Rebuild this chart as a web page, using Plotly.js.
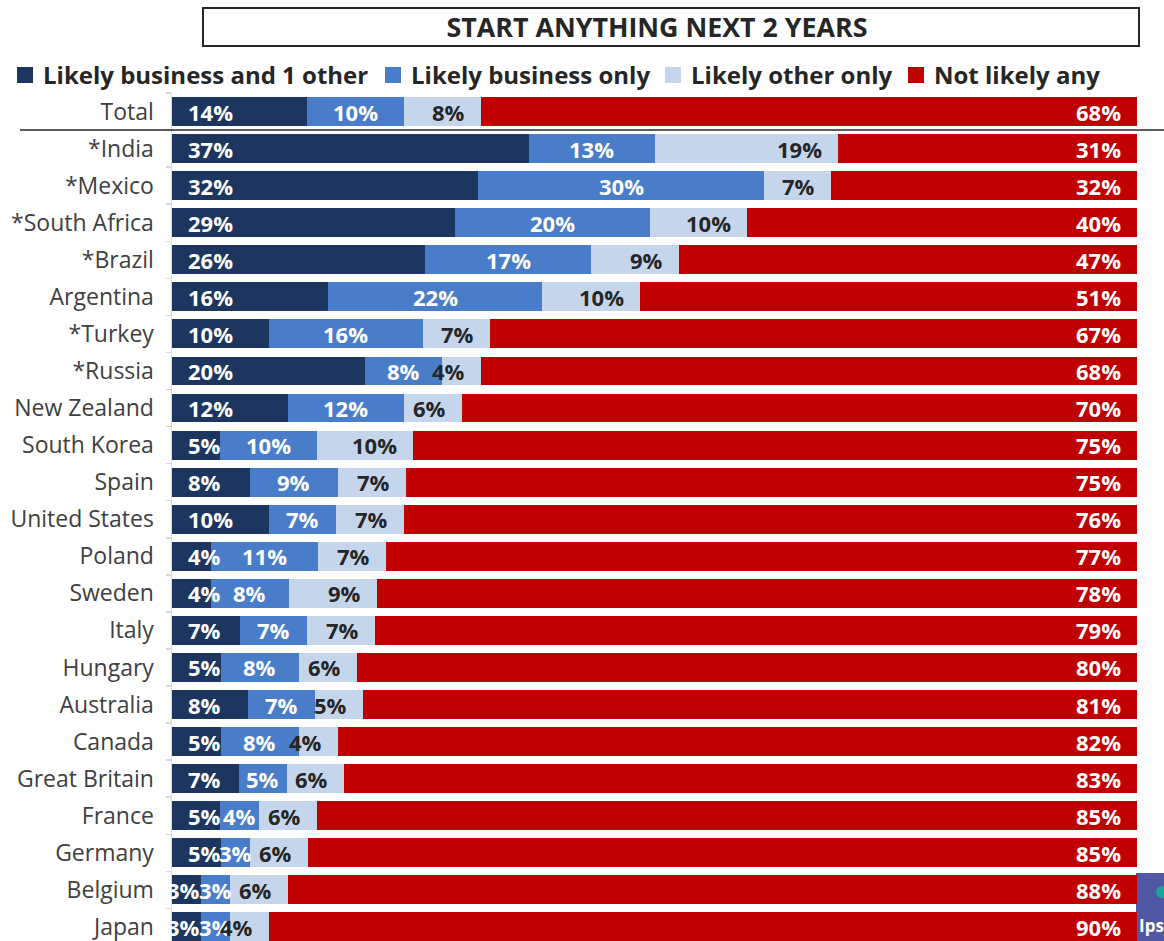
<!DOCTYPE html>
<html>
<head>
<meta charset="utf-8">
<script src="https://cdn.plot.ly/plotly-3.0.1.min.js"></script>
<style>
  html, body { margin: 0; padding: 0; background: #ffffff; }
  #chart { width: 1164px; height: 941px; }
</style>
</head>
<body>
<div id="chart"></div>
<script>
// ---- Data ----
const categories = ["Total", "*India", "*Mexico", "*South Africa", "*Brazil", "Argentina", "*Turkey",
  "*Russia", "New Zealand", "South Korea", "Spain", "United States", "Poland", "Sweden", "Italy",
  "Hungary", "Australia", "Canada", "Great Britain", "France", "Germany", "Belgium", "Japan"];
const likelyBusinessAndOther = [14, 37, 32, 29, 26, 16, 10, 20, 12, 5, 8, 10, 4, 4, 7, 5, 8, 5, 7, 5, 5, 3, 3];
const likelyBusinessOnly     = [10, 13, 30, 20, 17, 22, 16, 8, 12, 10, 9, 7, 11, 8, 7, 8, 7, 8, 5, 4, 3, 3, 3];
const likelyOtherOnly        = [8, 19, 7, 10, 9, 10, 7, 4, 6, 10, 7, 7, 7, 9, 7, 6, 5, 4, 6, 6, 6, 6, 4];
const notLikelyAny           = [68, 31, 32, 40, 47, 51, 67, 68, 70, 75, 75, 76, 77, 78, 79, 80, 81, 82, 83, 85, 85, 88, 90];
const seriesNames = ["Likely business and 1 other", "Likely business only", "Likely other only", "Not likely any"];
const chartTitle = "START ANYTHING NEXT 2 YEARS";

// ---- Styles / layout helpers ----
const colors = ["#1d365f", "#4a7dc9", "#c5d6ec", "#c00000"];
const labelColors = ["#ffffff", "#ffffff", "#262626", "#ffffff"];
const labelAnchor = ["left", "center", "right", "right"];
const FONT = "'Open Sans', Lato, sans-serif";
const W = 1164, H = 941, ML = 172, MR = 27, MT = 93, MB = 0;
const PW = W - ML - MR, PH = H - MT - MB;
const xp = px => (px - ML) / PW;          // pixel -> paper x
const yp = py => (H - MB - py) / PH;      // pixel -> paper y
const yRange = [22.38, -0.5];
const legendSquareX = [17, 385, 665, 908];

const series = [likelyBusinessAndOther, likelyBusinessOnly, likelyOtherOnly, notLikelyAny];

const traces = series.map((vals, i) => ({
  type: "bar",
  orientation: "h",
  name: seriesNames[i],
  y: categories,
  x: vals,
  marker: { color: colors[i], line: { width: 0 } },
  hoverinfo: "skip",
  showlegend: false
}));

// labels positioned from normalised cumulative data
const annotations = [];
categories.forEach((cat, r) => {
  const total = series.reduce((s, arr) => s + arr[r], 0);
  let cum = 0;
  series.forEach((arr, i) => {
    const v = arr[r];
    const start = cum / total * 100;
    const end = (cum + v) / total * 100;
    cum += v;
    const segPx = (end - start) / 100 * PW;
    let x, shift, anchor = labelAnchor[i];
    if (anchor === "left") {
      if (segPx < 34) { anchor = "right"; x = end; shift = 0; }
      else { x = start; shift = 15; }
    }
    else if (anchor === "center") { x = (start + end) / 2; shift = 0; }
    else { x = end; shift = -15; }
    annotations.push({
      x: x, y: cat, xref: "x", yref: "y",
      text: v + "%", showarrow: false,
      xanchor: anchor, yanchor: "middle", xshift: shift, yshift: 0,
      borderpad: 0,
      font: { family: FONT, size: 22, color: labelColors[i], weight: "bold" }
    });
  });
});

const shapes = [
  // title box
  { type: "rect", xref: "paper", yref: "paper",
    x0: xp(203), x1: xp(1139), y0: yp(46), y1: yp(8),
    line: { color: "#262626", width: 2 }, fillcolor: "rgba(0,0,0,0)" },
  // separator under Total
  { type: "line", xref: "paper", yref: "paper",
    x0: xp(20), x1: xp(1164), y0: (yRange[0] - 0.5) / (yRange[0] - yRange[1]), y1: (yRange[0] - 0.5) / (yRange[0] - yRange[1]),
    line: { color: "#262626", width: 1.5 } },
  // logo fragment
  { type: "rect", xref: "paper", yref: "paper", layer: "below",
    x0: xp(1136), x1: xp(1166), y0: yp(941), y1: yp(873),
    line: { width: 0 }, fillcolor: "#5158a3" },
  { type: "circle", xref: "paper", yref: "paper",
    x0: xp(1156), x1: xp(1168), y0: yp(898), y1: yp(886),
    line: { width: 0 }, fillcolor: "#1aa59a" }
];

// manual legend
seriesNames.forEach((name, i) => {
  const sx = legendSquareX[i];
  shapes.push({ type: "rect", xref: "paper", yref: "paper",
    x0: xp(sx), x1: xp(sx + 16), y0: yp(83), y1: yp(67),
    line: { width: 0 }, fillcolor: colors[i] });
  annotations.push({ xref: "paper", yref: "paper", x: xp(sx + 25), y: yp(74.5),
    xanchor: "left", yanchor: "middle", text: name, showarrow: false, borderpad: 0,
    font: { family: FONT, size: 24, color: "#262626", weight: "bold" } });
});

// logo fragment text
annotations.push({
  xref: "paper", yref: "paper", x: xp(1138), y: yp(925), xanchor: "left", yanchor: "middle",
  text: "Ips", showarrow: false, borderpad: 0,
  font: { family: FONT, size: 17, color: "#ffffff", weight: "bold" }
});

const layout = {
  width: W, height: H,
  margin: { l: ML, r: MR, t: MT, b: MB, autoexpand: false },
  paper_bgcolor: "#ffffff", plot_bgcolor: "rgba(0,0,0,0)",
  barmode: "stack", barnorm: "percent", bargap: 0.22,
  font: { family: FONT, color: "#262626" },
  title: {
    text: chartTitle, xref: "container", yref: "container",
    x: 657 / W, y: 1 - 28 / H, xanchor: "center", yanchor: "middle",
    font: { family: FONT, size: 26.8, color: "#262626", weight: "bold" }
  },
  showlegend: false,
  xaxis: { range: [0, 100], visible: false, fixedrange: true },
  yaxis: {
    type: "category", categoryorder: "array", categoryarray: categories,
    range: yRange, fixedrange: true,
    showline: true, linecolor: "#d9d9d9", linewidth: 1.5,
    ticks: "outside", tickson: "boundaries", ticklen: 5, tickcolor: "#d9d9d9", tickwidth: 1.5,
    ticklabelstandoff: 12,
    tickfont: { family: FONT, size: 23, color: "#404040" },
    showgrid: false, zeroline: false
  },
  shapes: shapes,
  annotations: annotations
};

Plotly.newPlot("chart", traces, layout, { displayModeBar: false, staticPlot: true });
</script>
</body>
</html>
